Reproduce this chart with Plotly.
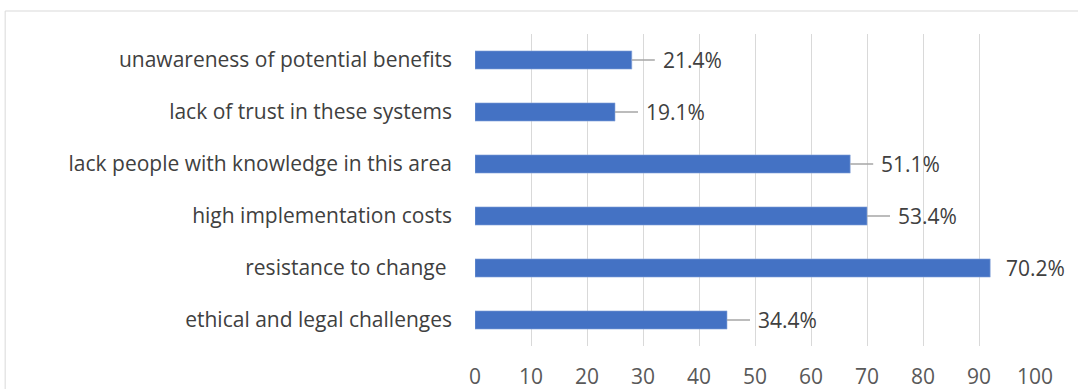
import plotly.graph_objects as go

categories = [
    "unawareness of potential benefits",
    "lack of trust in these systems",
    "lack people with knowledge in this area",
    "high implementation costs",
    "resistance to change ",
    "ethical and legal challenges",
]
counts = [28, 25, 67, 70, 92, 45]
pct_labels = ["21.4%", "19.1%", "51.1%", "53.4%", "70.2%", "34.4%"]
leader = [True, True, True, True, False, True]
x_ticks = [0, 10, 20, 30, 40, 50, 60, 70, 80, 90, 100]

FONT = "Open Sans"
FS = 21
fig = go.Figure()
fig.add_trace(go.Bar(
    y=categories, x=counts, orientation="h",
    marker=dict(color="#4472C4", line=dict(color="#8FAADC", width=0.6)),
    width=0.35, hoverinfo="skip",
))

for cat, v, lab, ld in zip(categories, counts, pct_labels, leader):
    if ld:
        fig.add_annotation(
            x=v, y=cat, xref="x", yref="y", text=lab,
            showarrow=True, arrowhead=0, arrowwidth=1.3, arrowcolor="#A6A6A6",
            ax=23, ay=0, xanchor="left", yanchor="middle", borderpad=7,
            font=dict(family=FONT, size=FS, color="#404040"),
        )
    else:
        fig.add_annotation(
            x=v, y=cat, xref="x", yref="y", text=lab,
            showarrow=False, xanchor="left", yanchor="middle", xshift=14,
            font=dict(family=FONT, size=FS, color="#404040"),
        )

fig.add_shape(type="rect", xref="paper", yref="paper",
              x0=-0.839, x1=1.2, y0=-0.3, y1=1.0737,
              line=dict(color="#D9D9D9", width=1), fillcolor="rgba(0,0,0,0)", layer="below")

fig.update_layout(
    width=1078, height=389,
    margin=dict(l=475, r=43, t=34, b=43),
    paper_bgcolor="white", plot_bgcolor="white",
    showlegend=False,
    font=dict(family=FONT, size=FS, color="#404040"),
    xaxis=dict(range=[0, 100], tickvals=x_ticks, showgrid=True, gridcolor="#D9D9D9",
               gridwidth=1, zeroline=False, showline=False, ticks="",
               tickfont=dict(family=FONT, size=21, color="#595959"),
               ticklabelstandoff=16, automargin=False, fixedrange=True),
    yaxis=dict(autorange="reversed", showgrid=False, zeroline=False, showline=False,
               ticks="", ticklabelstandoff=22, automargin=False,
               tickfont=dict(family=FONT, size=FS, color="#404040")),
)

fig.write_html("out.html")
